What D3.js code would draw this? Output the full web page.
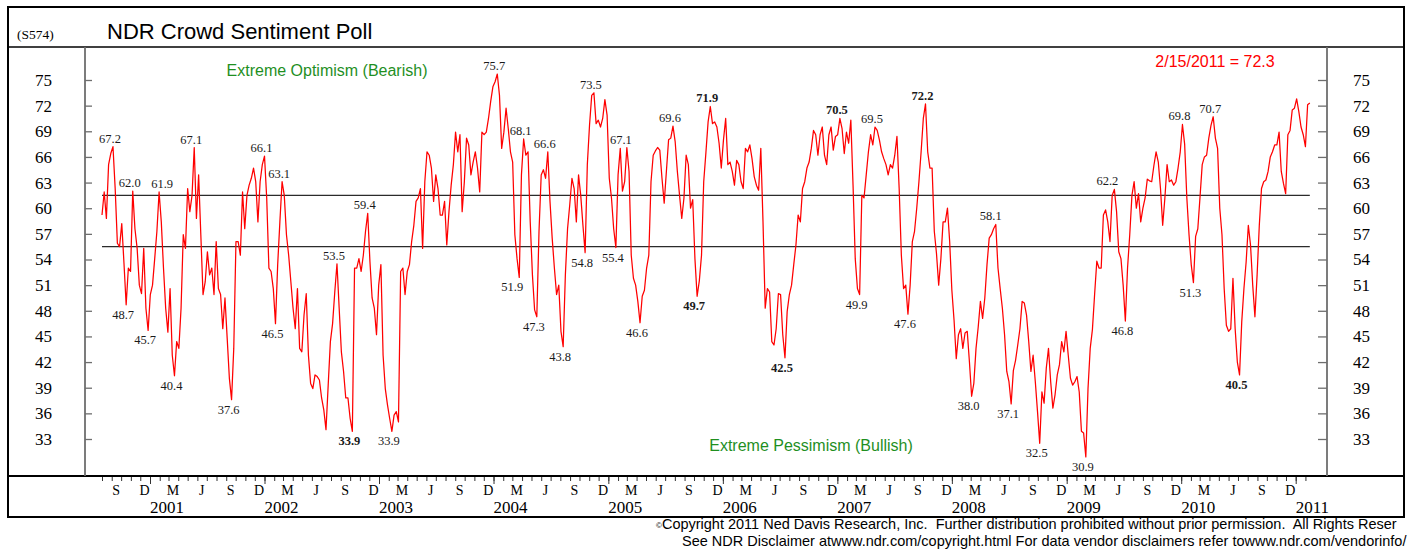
<!DOCTYPE html>
<html>
<head>
<meta charset="utf-8">
<script src="https://cdn.jsdelivr.net/npm/d3@7"></script>
<style>
  body { margin: 0; background: #fff; }
  svg { display: block; }
</style>
</head>
<body>
<script>
/* Data */

//First weekly reading, one value per week after that.
var startDate = "2000-08-01";

//Weekly crowd sentiment readings (Aug 2000 - Feb 2011).
var weeklyValues = [
  59.2, 61.9, 58.8, 65.1, 66.4, 67.2, 62.3, 55.9, 55.5, 58.2, 53.6, 48.7, 53.0, 52.6, 62.0, 57.6, 55.3, 51.0, 50.0, 55.3, 48.3, 45.7,
  49.9, 51.0, 54.1, 57.3, 61.9, 58.4, 53.0, 48.3, 45.5, 50.6, 42.8, 40.4, 44.4, 43.6, 48.3, 56.9, 55.3, 62.3, 59.6, 61.5, 67.1, 58.8,
  63.9, 56.9, 49.9, 51.4, 54.9, 52.2, 53.0, 49.9, 56.1, 50.6, 49.9, 45.9, 49.5, 44.8, 40.1, 37.6, 43.6, 56.1, 56.1, 54.5, 61.9, 57.6,
  61.5, 62.7, 63.5, 64.7, 63.1, 58.4, 63.1, 65.1, 66.1, 61.2, 53.0, 52.6, 50.6, 46.5, 53.4, 58.4, 63.1, 61.5, 56.9, 54.5, 51.4, 48.3,
  45.9, 50.6, 43.6, 43.2, 47.5, 50.0, 42.8, 39.5, 38.9, 40.5, 40.3, 39.9, 37.8, 36.4, 34.1, 39.3, 44.4, 46.5, 50.2, 53.5, 48.3, 43.2,
  40.9, 37.8, 37.8, 35.4, 33.9, 53.0, 53.0, 54.1, 52.6, 54.5, 57.3, 59.4, 53.8, 49.5, 48.3, 45.2, 51.0, 53.4, 42.8, 38.9, 37.0, 35.4,
  33.9, 35.8, 36.2, 35.0, 52.6, 53.0, 49.9, 52.6, 53.4, 56.1, 58.0, 60.8, 61.2, 62.3, 55.3, 63.1, 66.6, 66.2, 64.7, 60.8, 63.9, 62.3,
  59.2, 59.2, 60.8, 55.7, 59.6, 62.7, 65.1, 68.9, 66.6, 68.6, 59.6, 63.1, 68.2, 67.4, 63.9, 65.4, 66.6, 64.7, 61.9, 68.9, 68.6, 68.9,
  70.5, 72.5, 74.2, 74.8, 75.7, 73.2, 67.0, 68.9, 71.7, 69.3, 66.6, 65.4, 56.9, 54.1, 51.9, 63.9, 68.1, 66.2, 66.6, 58.4, 52.2, 48.1,
  47.3, 57.3, 63.9, 64.5, 63.5, 66.6, 60.8, 56.5, 53.0, 49.9, 51.0, 45.6, 43.8, 52.2, 57.6, 60.4, 63.5, 62.3, 58.4, 63.9, 61.5, 58.0,
  54.8, 65.1, 69.7, 73.2, 73.5, 69.9, 70.3, 69.5, 70.5, 72.7, 70.9, 63.5, 61.2, 57.6, 55.4, 63.9, 67.0, 62.0, 63.1, 67.1, 64.3, 54.5,
  51.8, 51.0, 49.1, 46.6, 49.7, 50.4, 53.0, 54.5, 63.1, 66.2, 66.7, 67.1, 66.8, 63.5, 60.6, 64.3, 68.0, 68.2, 69.6, 67.8, 64.3, 61.5,
  58.8, 61.2, 66.2, 65.1, 60.0, 61.0, 54.1, 49.7, 51.5, 54.5, 63.1, 66.5, 70.1, 71.9, 69.9, 70.1, 69.5, 67.6, 64.7, 68.0, 70.5, 65.1,
  65.4, 64.3, 62.7, 65.6, 65.1, 63.1, 62.3, 67.0, 66.6, 67.4, 65.8, 63.7, 62.7, 62.1, 67.0, 58.4, 48.3, 50.6, 50.2, 44.4, 44.0, 45.9,
  50.0, 49.9, 45.2, 42.5, 47.9, 49.9, 51.0, 53.4, 55.7, 59.2, 58.4, 62.3, 63.1, 64.7, 65.4, 67.0, 69.1, 68.6, 66.2, 68.6, 69.5, 66.2,
  65.1, 68.6, 69.5, 66.8, 68.4, 68.6, 70.5, 69.3, 66.4, 68.9, 67.6, 70.3, 62.7, 54.1, 50.6, 49.9, 61.5, 61.2, 63.9, 66.6, 68.6, 67.4,
  69.5, 69.1, 68.0, 66.6, 65.8, 65.1, 63.9, 65.1, 64.7, 66.2, 68.4, 62.3, 54.5, 50.6, 51.0, 47.6, 51.0, 56.1, 57.3, 60.0, 63.1, 66.6,
  70.5, 72.2, 66.6, 64.7, 64.7, 57.3, 54.7, 51.0, 54.1, 58.4, 58.4, 60.0, 56.1, 50.4, 46.9, 42.4, 45.2, 45.9, 43.6, 45.4, 45.6, 42.0,
  38.0, 39.5, 43.6, 46.1, 49.1, 47.1, 49.5, 53.4, 56.5, 56.9, 57.6, 58.1, 53.0, 50.6, 48.3, 45.2, 40.9, 39.7, 37.1, 41.0, 42.2, 44.0,
  45.9, 49.1, 48.9, 47.5, 44.4, 40.9, 42.8, 39.7, 36.2, 32.5, 38.5, 37.2, 41.3, 43.6, 39.7, 36.6, 38.2, 40.5, 41.7, 44.4, 43.2, 45.6,
  42.8, 40.1, 39.3, 39.7, 40.3, 38.5, 33.9, 33.7, 30.9, 38.9, 43.6, 45.8, 49.9, 53.8, 53.0, 53.0, 59.2, 59.8, 58.4, 56.1, 61.5, 62.2,
  59.6, 54.9, 54.1, 51.0, 46.8, 53.0, 56.9, 61.5, 63.1, 60.0, 61.7, 58.4, 60.0, 61.2, 63.4, 63.2, 63.1, 65.0, 66.6, 65.4, 62.3, 58.0,
  61.2, 65.1, 63.1, 63.3, 62.7, 63.1, 64.7, 66.6, 69.8, 67.5, 61.2, 56.9, 53.4, 51.3, 56.7, 57.6, 61.3, 65.1, 66.0, 66.2, 68.2, 69.7,
  70.7, 68.2, 67.0, 60.0, 56.9, 50.6, 46.3, 45.6, 45.9, 51.8, 45.9, 42.0, 40.5, 46.7, 50.6, 53.7, 58.0, 55.7, 51.0, 47.3, 52.2, 58.0,
  62.3, 63.1, 63.3, 64.3, 66.0, 66.6, 67.4, 67.4, 68.9, 64.3, 62.9, 61.7, 68.6, 69.1, 71.5, 71.7, 72.8, 71.3, 69.5, 68.6, 67.2, 72.1,
  72.3
];

//Extreme levels drawn as horizontal lines.
var upperLevel = 61.5;
var lowerLevel = 55.5;

//Y tick values (both sides).
var yTicks = [33, 36, 39, 42, 45, 48, 51, 54, 57, 60, 63, 66, 69, 72, 75];

//Month letters on the time axis (Mar, Jun, Sep, Dec).
var monthLetters = {2: "M", 5: "J", 8: "S", 11: "D"};

//Year labels.
var years = [2001, 2002, 2003, 2004, 2005, 2006, 2007, 2008, 2009, 2010, 2011];

//Labelled turning points: week index, "top" or "bottom", bold.
var peakWeeks = [
  [5, "top"], [11, "bottom"], [14, "top"], [21, "bottom"], [26, "top"], [33, "bottom"], [42, "top"], [59, "bottom"],
  [74, "top"], [79, "bottom"], [82, "top"], [107, "top"], [114, "bottom", true], [121, "top"], [132, "bottom"],
  [180, "top"], [190, "bottom"], [192, "top"], [198, "bottom"], [203, "top"], [210, "bottom"], [220, "bottom"],
  [224, "top"], [234, "bottom"], [239, "top"], [245, "bottom"], [260, "top"], [271, "bottom", true], [277, "top", true],
  [311, "bottom", true], [336, "top", true], [345, "bottom"], [352, "top"], [367, "bottom"], [375, "top", true],
  [396, "bottom"], [407, "top"], [414, "bottom"], [427, "bottom"], [448, "bottom"], [461, "top"], [466, "bottom"],
  [492, "top"], [497, "bottom"], [506, "top"], [518, "bottom", true]
];

//Small horizontal nudges for labels that sit beside their point.
var labelShift = {26: 6, 190: -4, 239: -3, 461: -4, 407: -2};

//Footer lines (the first one runs into the frame edge in the original).
var footerLines = [
  "Copyright 2011 Ned Davis Research, Inc.  Further distribution prohibited without prior permission.  All Rights Reser",
  "See NDR Disclaimer atwww.ndr.com/copyright.html For data vendor disclaimers refer towww.ndr.com/vendorinfo/"
];

/* Layout */
var width = 1416;
var height = 550;
var boxLeft = 8, boxRight = 1404, boxTop = 7, boxBottom = 517;
var headerY = 47;
var plotLeft = 85, plotRight = 1327, plotBottom = 476;

var green = "#1f8f1f";
var sans = "'Liberation Sans', Arial, sans-serif";

var svg = d3.select("body").append("svg")
  .attr("width", width)
  .attr("height", height)
  .style("font-family", "'Liberation Serif', 'Times New Roman', serif");

//Weekly dates.
var parseDate = d3.utcParse("%Y-%m-%d");
var start = parseDate(startDate);
var data = weeklyValues.map(function (v, i) {
  return {date: d3.utcDay.offset(start, 7 * i), value: v};
});
var lastPoint = data[data.length - 1];

//Scales.
var x = d3.scaleUtc()
  .domain([new Date(Date.UTC(2001, 0, 1)), new Date(Date.UTC(2011, 0, 1))])
  .range([150, 1295.7]);
var y = d3.scaleLinear().domain([33, 75]).range([439, 80]);

//Frame.
svg.append("rect")
  .attr("x", boxLeft).attr("y", boxTop)
  .attr("width", boxRight - boxLeft).attr("height", boxBottom - boxTop)
  .attr("fill", "none").attr("stroke", "#000").attr("stroke-width", 2);

svg.append("line")
  .attr("x1", boxLeft).attr("x2", boxRight).attr("y1", headerY).attr("y2", headerY)
  .attr("stroke", "#000").attr("stroke-width", 1.6);

svg.append("line")
  .attr("x1", boxLeft).attr("x2", boxRight).attr("y1", plotBottom).attr("y2", plotBottom)
  .attr("stroke", "#000").attr("stroke-width", 2.2);

//Vertical axis lines.
[plotLeft, plotRight].forEach(function (px) {
  svg.append("line")
    .attr("x1", px).attr("x2", px).attr("y1", headerY).attr("y2", plotBottom)
    .attr("stroke", "#6e6e6e").attr("stroke-width", 1.8);
});

//Y axes.
var leftAxis = svg.append("g")
  .attr("transform", "translate(" + plotLeft + ",0)")
  .call(d3.axisLeft(y).tickValues(yTicks).tickSize(-7).tickPadding(33).tickFormat(d3.format("d")));

var rightAxis = svg.append("g")
  .attr("transform", "translate(" + plotRight + ",0)")
  .call(d3.axisRight(y).tickValues(yTicks).tickSize(-9).tickPadding(26).tickFormat(d3.format("d")));

[leftAxis, rightAxis].forEach(function (g) {
  g.select(".domain").remove();
  g.selectAll(".tick line").attr("stroke", "#6e6e6e").attr("stroke-width", 1.3);
  g.selectAll(".tick text")
    .attr("fill", "#000")
    .style("font-family", "'Liberation Serif', 'Times New Roman', serif")
    .style("font-size", "17px");
});

//Time axis: monthly ticks and longer yearly ticks.
var monthTicks = d3.utcMonth.range(new Date(Date.UTC(2000, 7, 1)), new Date(Date.UTC(2011, 2, 1)));
var yearTicks = d3.utcYear.range(new Date(Date.UTC(2001, 0, 1)), new Date(Date.UTC(2012, 0, 1)));

var monthAxis = svg.append("g")
  .attr("transform", "translate(0," + (plotBottom + 1) + ")")
  .call(d3.axisBottom(x).tickValues(monthTicks).tickSize(4).tickFormat(""));
var yearAxis = svg.append("g")
  .attr("transform", "translate(0," + (plotBottom + 1) + ")")
  .call(d3.axisBottom(x).tickValues(yearTicks.slice(0, 11)).tickSize(7).tickFormat(""));

[monthAxis, yearAxis].forEach(function (g) {
  g.select(".domain").remove();
  g.selectAll(".tick line").attr("stroke", "#333").attr("stroke-width", 1);
});

//Month letters, centred on the middle of the month.
var letterMonths = monthTicks.filter(function (d) {
  return monthLetters[d.getUTCMonth()] !== undefined;
});
svg.append("g").selectAll("text")
  .data(letterMonths)
  .enter().append("text")
  .attr("x", function (d) { return x(d3.utcDay.offset(d, 14)); })
  .attr("y", 495)
  .attr("text-anchor", "middle")
  .style("font-size", "14px")
  .text(function (d) { return monthLetters[d.getUTCMonth()]; });

//Year labels, starting at January 1.
svg.append("g").selectAll("text")
  .data(years)
  .enter().append("text")
  .attr("x", function (d) { return x(new Date(Date.UTC(d, 0, 1))); })
  .attr("y", 512.5)
  .style("font-size", "17px")
  .text(function (d) { return d; });

//Extreme level lines.
[upperLevel, lowerLevel].forEach(function (level) {
  svg.append("line")
    .attr("x1", x(data[0].date)).attr("x2", x(lastPoint.date))
    .attr("y1", y(level)).attr("y2", y(level))
    .attr("stroke", "#2b2b2b").attr("stroke-width", 1.3);
});

//Sentiment line.
var line = d3.line()
  .x(function (d) { return x(d.date); })
  .y(function (d) { return y(d.value); });

svg.append("path")
  .datum(data)
  .attr("d", line)
  .attr("fill", "none")
  .attr("stroke", "#ff0000")
  .attr("stroke-width", 1.25)
  .attr("stroke-linejoin", "round");

//Turning point labels.
svg.append("g").selectAll("text")
  .data(peakWeeks)
  .enter().append("text")
  .attr("x", function (d) { return x(data[d[0]].date) - 3 + (labelShift[d[0]] || 0); })
  .attr("y", function (d) {
    var py = y(data[d[0]].value);
    return d[1] === "top" ? py - 4 : py + 14;
  })
  .attr("text-anchor", "middle")
  .attr("fill", "#1a1a1a")
  .style("font-size", "12.5px")
  .style("font-weight", function (d) { return d[2] ? "bold" : "normal"; })
  .text(function (d) { return data[d[0]].value.toFixed(1); });

//Header texts.
svg.append("text")
  .attr("x", 17).attr("y", 39)
  .style("font-size", "13.5px")
  .text("(S574)");

svg.append("text")
  .attr("x", 107).attr("y", 39)
  .style("font-family", sans)
  .style("font-size", "22px")
  .text("NDR Crowd Sentiment Poll");

//Zone captions.
svg.append("text")
  .attr("x", 327).attr("y", 76)
  .attr("text-anchor", "middle")
  .attr("fill", green)
  .style("font-family", sans)
  .style("font-size", "16px")
  .text("Extreme Optimism (Bearish)");

svg.append("text")
  .attr("x", 811).attr("y", 451)
  .attr("text-anchor", "middle")
  .attr("fill", green)
  .style("font-family", sans)
  .style("font-size", "16px")
  .text("Extreme Pessimism (Bullish)");

//Latest reading.
svg.append("text")
  .attr("x", 1215).attr("y", 67)
  .attr("text-anchor", "middle")
  .attr("fill", "#ff0000")
  .style("font-family", sans)
  .style("font-size", "16px")
  .text(d3.utcFormat("%-m/%-d/%Y")(lastPoint.date) + " = " + lastPoint.value.toFixed(1));

//Footer.
var footer = svg.append("g")
  .style("font-family", sans)
  .style("font-size", "14.5px");

var line1 = footer.append("text").attr("x", 656).attr("y", 529).attr("xml:space", "preserve");
line1.append("tspan").style("font-size", "8px").attr("dy", -1).text("©");
line1.append("tspan").attr("dy", 1).text(footerLines[0]);

footer.append("text").attr("x", 682).attr("y", 546).attr("xml:space", "preserve")
  .text(footerLines[1]);
</script>
</body>
</html>
